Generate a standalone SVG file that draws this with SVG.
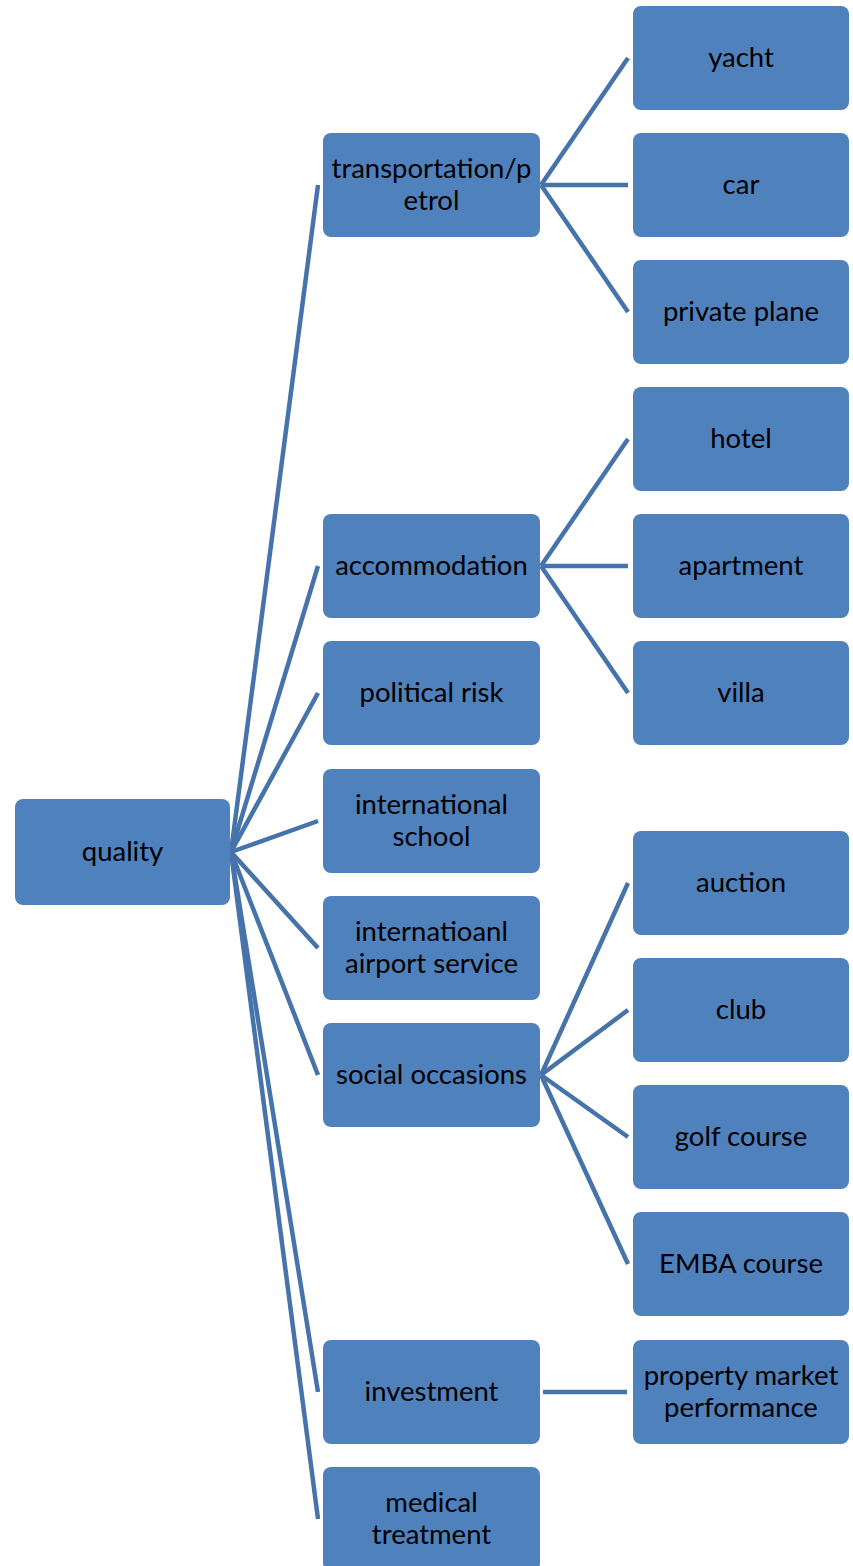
<svg xmlns="http://www.w3.org/2000/svg" width="853" height="1566" viewBox="0 0 853 1566">
  <style>
    .box { fill: #4F81BD; }
    .lbl { font-family: Lato, "Liberation Sans", sans-serif; font-size: 27.5px; fill: #000; text-anchor: middle; }
    .link { stroke: #4673AA; stroke-width: 4.5; fill: none; }
  </style>
  <rect width="853" height="1566" fill="#fff"/>

  <!-- connectors -->
  <g id="connectors" class="link">
    <!-- quality to first level -->
    <line x1="231" y1="852" x2="318" y2="185"/>
    <line x1="231" y1="852" x2="318" y2="566"/>
    <line x1="231" y1="852" x2="318" y2="693"/>
    <line x1="231" y1="852" x2="318" y2="821"/>
    <line x1="231" y1="852" x2="318" y2="948"/>
    <line x1="231" y1="852" x2="318" y2="1075"/>
    <line x1="231" y1="852" x2="318" y2="1392"/>
    <line x1="231" y1="852" x2="318" y2="1519"/>
    <!-- transportation/petrol -->
    <line x1="541" y1="185" x2="628" y2="58"/>
    <line x1="541" y1="185" x2="628" y2="185"/>
    <line x1="541" y1="185" x2="628" y2="312"/>
    <!-- accommodation -->
    <line x1="541" y1="566" x2="628" y2="439"/>
    <line x1="541" y1="566" x2="628" y2="566"/>
    <line x1="541" y1="566" x2="628" y2="693"/>
    <!-- social occasions -->
    <line x1="541" y1="1075" x2="628" y2="883"/>
    <line x1="541" y1="1075" x2="628" y2="1010"/>
    <line x1="541" y1="1075" x2="628" y2="1137"/>
    <line x1="541" y1="1075" x2="628" y2="1264"/>
    <!-- investment -->
    <line x1="543" y1="1392" x2="627" y2="1392"/>
  </g>

  <!-- root -->
  <g id="quality">
    <rect class="box" x="15" y="799" width="215" height="106" rx="8"/>
    <text class="lbl" x="122.5" y="861">quality</text>
  </g>

  <!-- first level -->
  <g id="transportation">
    <rect class="box" x="323" y="133" width="217" height="104" rx="8"/>
    <text class="lbl" x="431.5" y="178">transportation/p</text>
    <text class="lbl" x="431.5" y="210">etrol</text>
  </g>
  <g id="accommodation">
    <rect class="box" x="323" y="514" width="217" height="104" rx="8"/>
    <text class="lbl" x="431.5" y="575">accommodation</text>
  </g>
  <g id="political-risk">
    <rect class="box" x="323" y="641" width="217" height="104" rx="8"/>
    <text class="lbl" x="431.5" y="702">political risk</text>
  </g>
  <g id="international-school">
    <rect class="box" x="323" y="769" width="217" height="104" rx="8"/>
    <text class="lbl" x="431.5" y="814">international</text>
    <text class="lbl" x="431.5" y="846">school</text>
  </g>
  <g id="airport-service">
    <rect class="box" x="323" y="896" width="217" height="104" rx="8"/>
    <text class="lbl" x="431.5" y="941">internatioanl</text>
    <text class="lbl" x="431.5" y="973">airport service</text>
  </g>
  <g id="social-occasions">
    <rect class="box" x="323" y="1023" width="217" height="104" rx="8"/>
    <text class="lbl" x="431.5" y="1084">social occasions</text>
  </g>
  <g id="investment">
    <rect class="box" x="323" y="1340" width="217" height="104" rx="8"/>
    <text class="lbl" x="431.5" y="1401">investment</text>
  </g>
  <g id="medical-treatment">
    <rect class="box" x="323" y="1467" width="217" height="104" rx="8"/>
    <text class="lbl" x="431.5" y="1512">medical</text>
    <text class="lbl" x="431.5" y="1544">treatment</text>
  </g>

  <!-- second level -->
  <g id="yacht">
    <rect class="box" x="633" y="6" width="216" height="104" rx="8"/>
    <text class="lbl" x="741" y="67">yacht</text>
  </g>
  <g id="car">
    <rect class="box" x="633" y="133" width="216" height="104" rx="8"/>
    <text class="lbl" x="741" y="194">car</text>
  </g>
  <g id="private-plane">
    <rect class="box" x="633" y="260" width="216" height="104" rx="8"/>
    <text class="lbl" x="741" y="321">private plane</text>
  </g>
  <g id="hotel">
    <rect class="box" x="633" y="387" width="216" height="104" rx="8"/>
    <text class="lbl" x="741" y="448">hotel</text>
  </g>
  <g id="apartment">
    <rect class="box" x="633" y="514" width="216" height="104" rx="8"/>
    <text class="lbl" x="741" y="575">apartment</text>
  </g>
  <g id="villa">
    <rect class="box" x="633" y="641" width="216" height="104" rx="8"/>
    <text class="lbl" x="741" y="702">villa</text>
  </g>
  <g id="auction">
    <rect class="box" x="633" y="831" width="216" height="104" rx="8"/>
    <text class="lbl" x="741" y="892">auction</text>
  </g>
  <g id="club">
    <rect class="box" x="633" y="958" width="216" height="104" rx="8"/>
    <text class="lbl" x="741" y="1019">club</text>
  </g>
  <g id="golf-course">
    <rect class="box" x="633" y="1085" width="216" height="104" rx="8"/>
    <text class="lbl" x="741" y="1146">golf course</text>
  </g>
  <g id="emba-course">
    <rect class="box" x="633" y="1212" width="216" height="104" rx="8"/>
    <text class="lbl" x="741" y="1273">EMBA course</text>
  </g>
  <g id="property-market">
    <rect class="box" x="633" y="1340" width="216" height="104" rx="8"/>
    <text class="lbl" x="741" y="1385">property market</text>
    <text class="lbl" x="741" y="1417">performance</text>
  </g>
</svg>
